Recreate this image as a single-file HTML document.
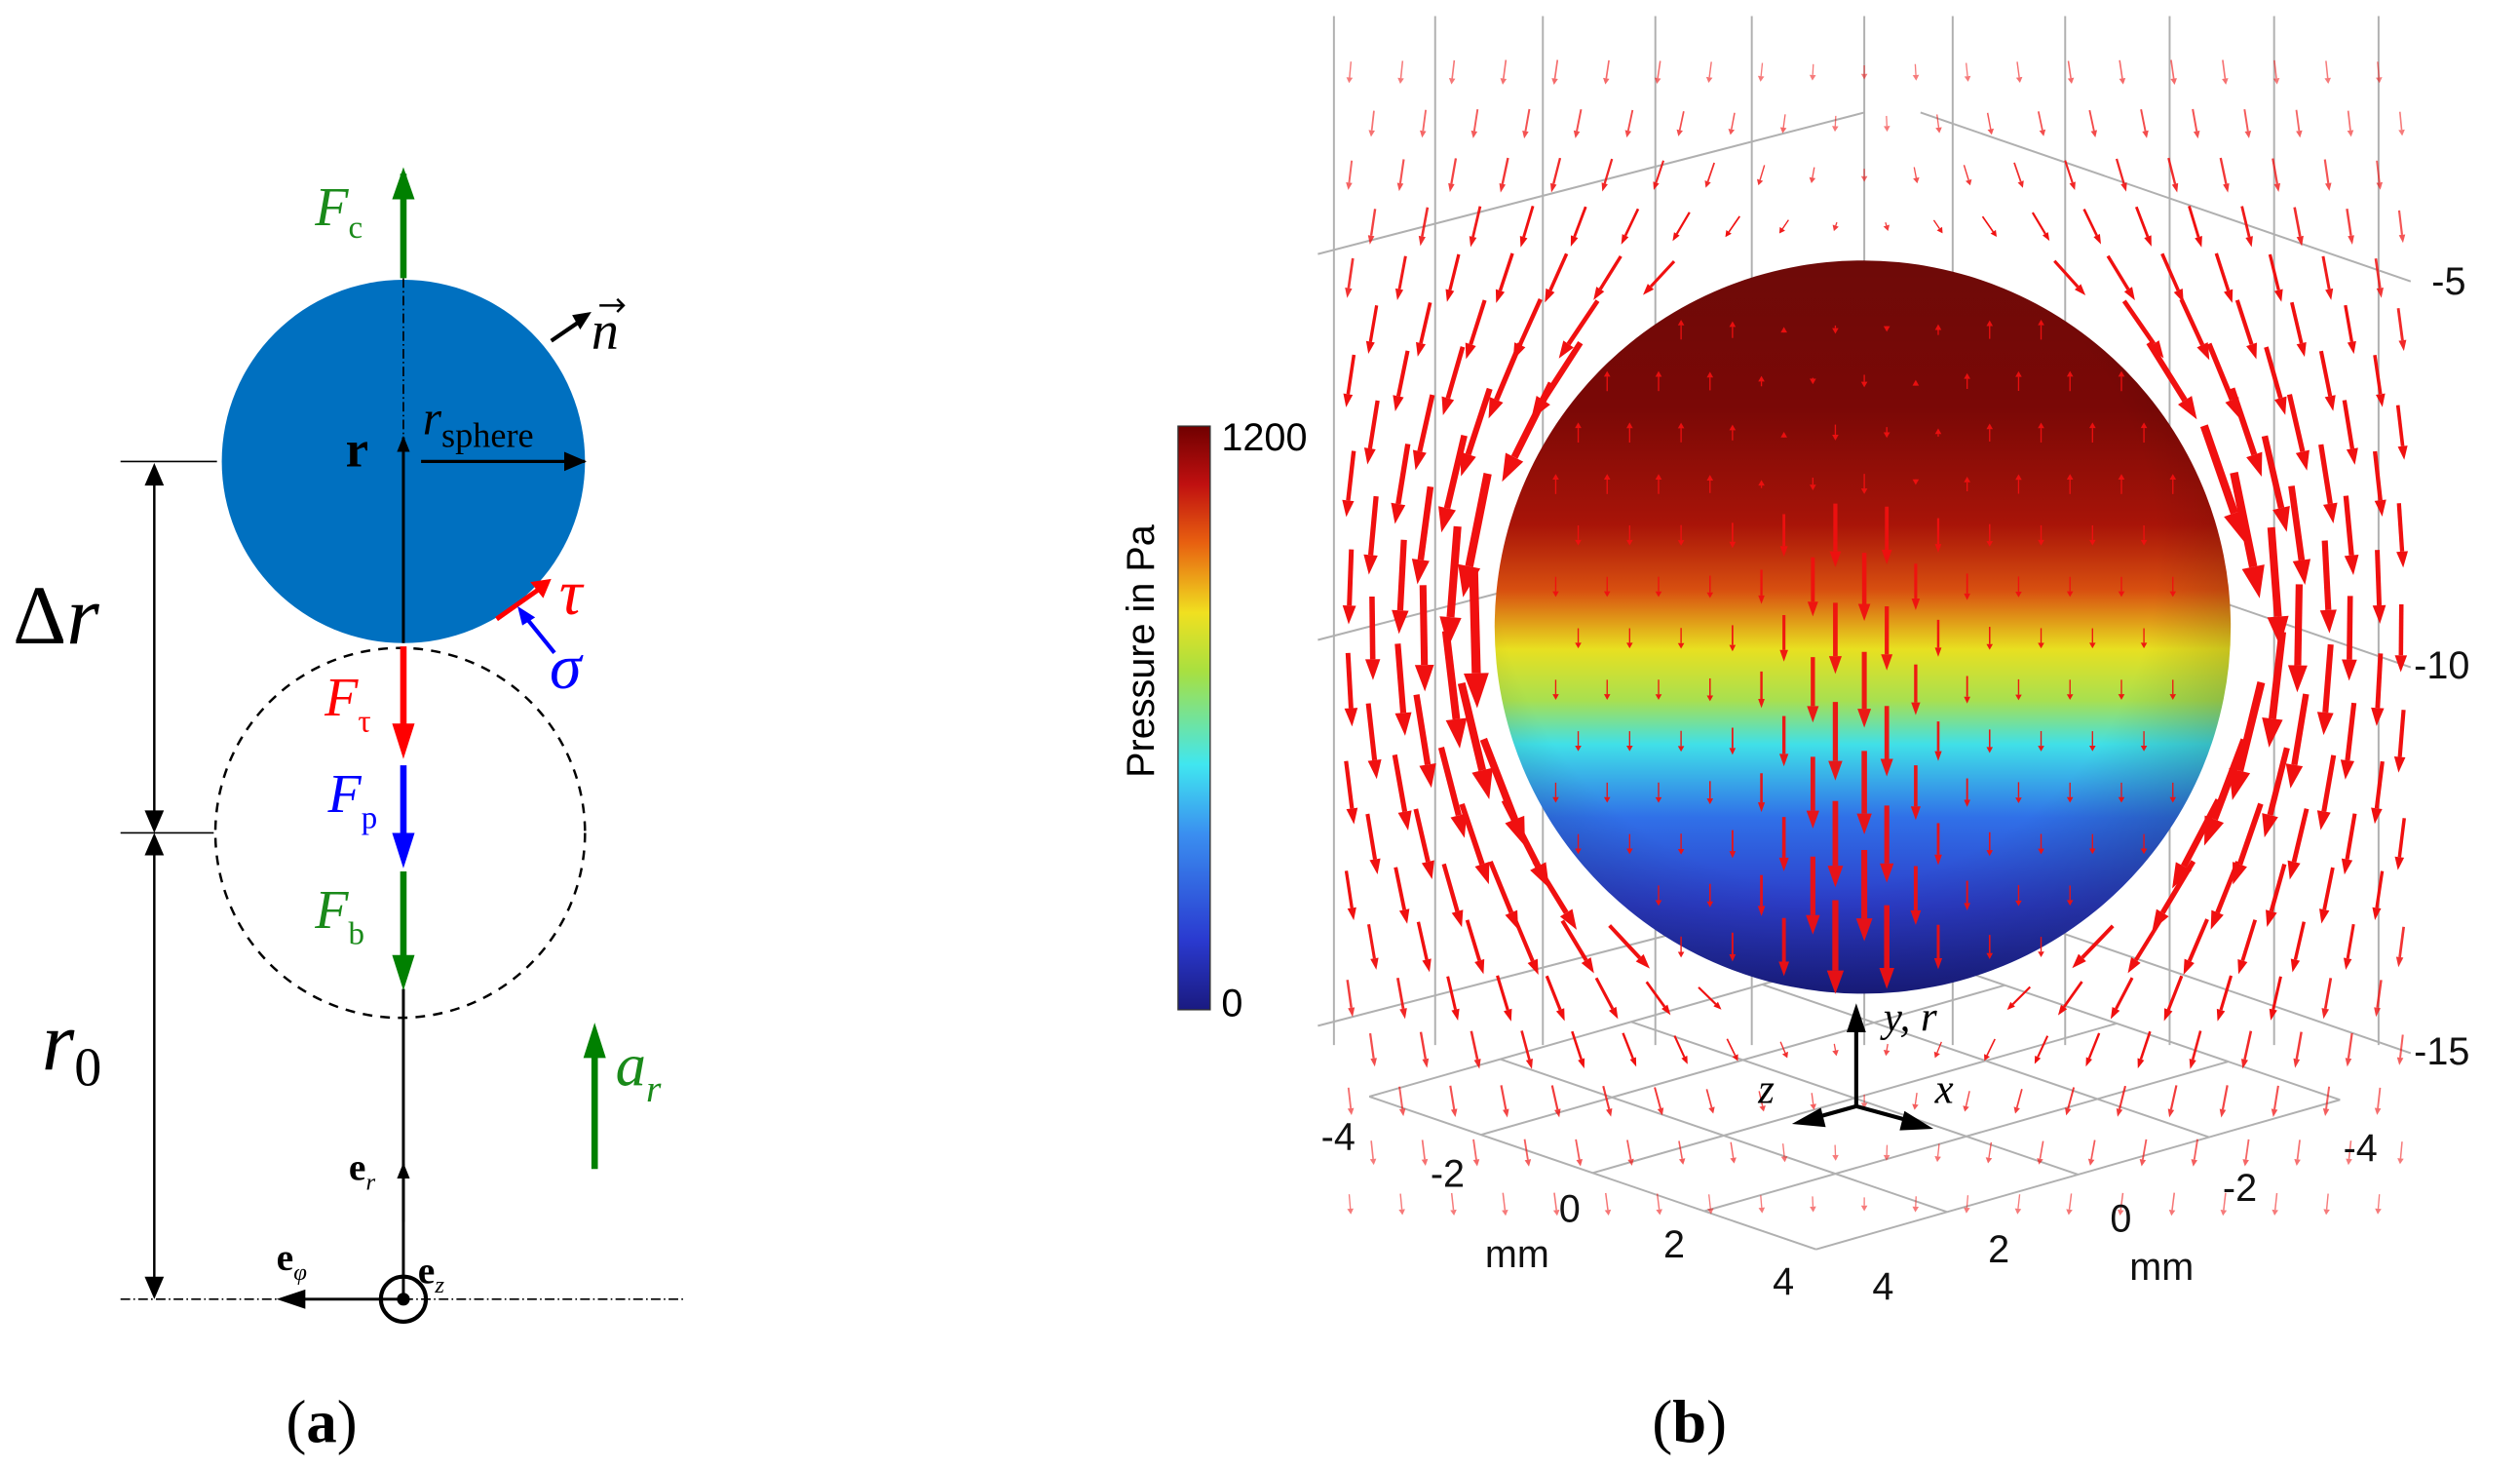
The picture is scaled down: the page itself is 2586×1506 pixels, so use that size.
<!DOCTYPE html>
<html><head><meta charset="utf-8"><style>
html,body{margin:0;padding:0;background:#fff;}
svg{display:block;}
.serif{font-family:"Liberation Serif",serif;}
.sans{font-family:"Liberation Sans",sans-serif;}
</style></head><body>
<svg id="fig" width="2586" height="1506" viewBox="0 0 1568 913" preserveAspectRatio="none" xmlns="http://www.w3.org/2000/svg">
<defs>
<marker id="hk" markerWidth="10" markerHeight="10" refX="9" refY="5" orient="auto" markerUnits="userSpaceOnUse"><path d="M0,1 L10,5 L0,9 Z" fill="#000"/></marker>
<marker id="hk2" markerWidth="14" markerHeight="14" refX="13" refY="7" orient="auto" markerUnits="userSpaceOnUse"><path d="M0,1 L14,7 L0,13 Z" fill="#000"/></marker>
<linearGradient id="cb" x1="0" y1="1" x2="0" y2="0">
<stop offset="0" stop-color="#1a1a80"/><stop offset="0.12" stop-color="#2a3ad0"/><stop offset="0.3" stop-color="#3a8ef0"/><stop offset="0.42" stop-color="#40e6f0"/><stop offset="0.58" stop-color="#a8e040"/><stop offset="0.68" stop-color="#f0e020"/><stop offset="0.8" stop-color="#e86010"/><stop offset="0.9" stop-color="#c01010"/><stop offset="1" stop-color="#700000"/>
</linearGradient>
<linearGradient id="sg" x1="0" y1="0" x2="0" y2="1">
<stop offset="0" stop-color="#6e0a08"/><stop offset="0.2" stop-color="#7a0806"/><stop offset="0.36" stop-color="#a81408"/><stop offset="0.45" stop-color="#d85010"/><stop offset="0.53" stop-color="#e8e020"/><stop offset="0.6" stop-color="#a8e050"/><stop offset="0.66" stop-color="#40e0e8"/><stop offset="0.76" stop-color="#3070e8"/><stop offset="0.88" stop-color="#2c3cc8"/><stop offset="1" stop-color="#1c2090"/>
</linearGradient>
<radialGradient id="shade" cx="0.45" cy="0.4" r="0.6"><stop offset="0.75" stop-color="#000" stop-opacity="0"/><stop offset="1" stop-color="#000" stop-opacity="0.18"/></radialGradient>
</defs>

<!-- PANEL A -->
<g>
<circle cx="251" cy="287" r="113" fill="#0070c0"/>
<circle cx="249" cy="518" r="115" fill="none" stroke="#000" stroke-width="1.5" stroke-dasharray="6,5"/>
<line x1="251" y1="173" x2="251" y2="287" stroke="#000" stroke-width="1" stroke-dasharray="6,2,1,2"/>
<line x1="251" y1="400" x2="251" y2="272" stroke="#000" stroke-width="1.8" marker-end="url(#hk)"/>
<line x1="251" y1="615" x2="251" y2="808" stroke="#000" stroke-width="1.8"/>
<line x1="251" y1="760" x2="251" y2="724" stroke="#000" stroke-width="1.8" marker-end="url(#hk)"/>
<line x1="262" y1="287" x2="364" y2="287" stroke="#000" stroke-width="2" marker-end="url(#hk2)"/>
<text class="serif" x="215" y="290" font-size="32" font-weight="bold">r</text>
<text class="serif" x="263" y="270" font-size="30" font-style="italic">r<tspan font-size="22" font-style="normal" dy="8">sphere</tspan></text>
<line x1="251" y1="173" x2="251" y2="108" stroke="#008000" stroke-width="4"/>
<path d="M244,124 L251,104 L258,124 Z" fill="#008000"/>
<text class="serif" x="196" y="140" font-size="34" font-style="italic" fill="#1a8a1a">F<tspan font-size="20" font-style="normal" dy="8">c</tspan></text>
<line x1="343" y1="212" x2="362" y2="199" stroke="#000" stroke-width="2.5"/>
<path d="M356,196 L368,194 L361,205 Z" fill="#000"/>
<text class="serif" x="368" y="217" font-size="34" font-style="italic">n</text>
<path d="M373,190 L388,190 M384,186 L388,190 L384,194" stroke="#000" stroke-width="1.5" fill="none"/>
<line x1="309" y1="385" x2="336" y2="366" stroke="#ff0000" stroke-width="3"/>
<path d="M330,362 L343,360 L338,372 Z" fill="#ff0000"/>
<text class="serif" x="348" y="382" font-size="40" font-style="italic" fill="#ff0000">τ</text>
<line x1="345" y1="406" x2="328" y2="385" stroke="#0000ff" stroke-width="2.5"/>
<path d="M322,377 L333,384 L325,389 Z" fill="#0000ff"/>
<text class="serif" x="342" y="428" font-size="40" font-style="italic" fill="#0000ff">σ</text>
<line x1="251" y1="402" x2="251" y2="455" stroke="#ff0000" stroke-width="4"/>
<path d="M244,450 L251,472 L258,450 Z" fill="#ff0000"/>
<text class="serif" x="202" y="445" font-size="34" font-style="italic" fill="#ff0000">F<tspan font-size="20" font-style="normal" dy="10">τ</tspan></text>
<line x1="251" y1="476" x2="251" y2="522" stroke="#0000ff" stroke-width="4"/>
<path d="M244,518 L251,540 L258,518 Z" fill="#0000ff"/>
<text class="serif" x="204" y="505" font-size="34" font-style="italic" fill="#0000ff">F<tspan font-size="20" font-style="normal" dy="10">p</tspan></text>
<line x1="251" y1="542" x2="251" y2="598" stroke="#008000" stroke-width="4"/>
<path d="M244,594 L251,616 L258,594 Z" fill="#008000"/>
<text class="serif" x="196" y="577" font-size="34" font-style="italic" fill="#1a8a1a">F<tspan font-size="20" font-style="normal" dy="10">b</tspan></text>
<line x1="75" y1="287" x2="135" y2="287" stroke="#000" stroke-width="1"/>
<line x1="75" y1="518" x2="133" y2="518" stroke="#000" stroke-width="1"/>
<line x1="96" y1="300" x2="96" y2="506" stroke="#000" stroke-width="1.5"/>
<path d="M90,302 L96,288 L102,302 Z M90,504 L96,518 L102,504 Z" fill="#000"/>
<line x1="96" y1="530" x2="96" y2="796" stroke="#000" stroke-width="1.5"/>
<path d="M90,532 L96,518 L102,532 Z M90,794 L96,808 L102,794 Z" fill="#000"/>
<text class="serif" x="8" y="400" font-size="52">Δ<tspan font-style="italic">r</tspan></text>
<text class="serif" x="26" y="665" font-size="52" font-style="italic">r<tspan font-size="34" font-style="normal" dy="10">0</tspan></text>
<line x1="75" y1="808" x2="425" y2="808" stroke="#000" stroke-width="1" stroke-dasharray="6,2,1,2"/>
<line x1="251" y1="808" x2="185" y2="808" stroke="#000" stroke-width="1.8"/>
<path d="M190,802 L172,808 L190,814 Z" fill="#000"/>
<circle cx="251" cy="808" r="14" fill="none" stroke="#000" stroke-width="2.5"/>
<circle cx="251" cy="808" r="4" fill="#000"/>
<text class="serif" x="217" y="734" font-size="24" font-weight="bold">e<tspan font-size="15" font-style="italic" font-weight="normal" dy="6">r</tspan></text>
<text class="serif" x="172" y="790" font-size="24" font-weight="bold">e<tspan font-size="15" font-style="italic" font-weight="normal" dy="6">φ</tspan></text>
<text class="serif" x="260" y="798" font-size="24" font-weight="bold">e<tspan font-size="15" font-style="italic" font-weight="normal" dy="6">z</tspan></text>
<line x1="370" y1="727" x2="370" y2="656" stroke="#008000" stroke-width="4"/>
<path d="M363,658 L370,636 L377,658 Z" fill="#008000"/>
<text class="serif" x="383" y="675" font-size="38" font-style="italic" fill="#1a8a1a">a<tspan font-size="24" dy="10">r</tspan></text>
<text class="serif" x="178" y="897" font-size="38">(<tspan font-weight="bold">a</tspan>)</text>
</g>

<!-- PANEL B -->
<g>
<g id="grid" stroke="#b0b0b0" stroke-width="1.2" fill="none"></g>
<g id="backArrows"></g>
<ellipse cx="1159" cy="390" rx="229" ry="228" fill="url(#sg)"/>
<ellipse cx="1159" cy="390" rx="229" ry="228" fill="url(#shade)"/>
<g id="frontArrows"></g>
<rect x="733" y="265" width="20" height="363" fill="url(#cb)" stroke="#333" stroke-width="0.8"/>
<text class="sans" x="760" y="280" font-size="24">1200</text>
<text class="sans" x="760" y="632" font-size="24">0</text>
<text class="sans" x="0" y="0" font-size="24" text-anchor="middle" transform="translate(718,405) rotate(-90)">Pressure in Pa</text>
<g class="sans" font-size="24" fill="#111">
<text x="1513" y="183">-5</text><text x="1502" y="422">-10</text><text x="1502" y="662">-15</text>
<text x="822" y="715">-4</text><text x="890" y="738">-2</text><text x="970" y="760">0</text><text x="924" y="788">mm</text>
<text x="1035" y="782">2</text><text x="1103" y="805">4</text><text x="1165" y="808">4</text><text x="1237" y="785">2</text>
<text x="1313" y="766">0</text><text x="1325" y="796">mm</text><text x="1383" y="747">-2</text><text x="1458" y="722">-4</text>
</g>
<g>
<line x1="1155" y1="688" x2="1155" y2="640" stroke="#000" stroke-width="2.5"/>
<path d="M1149,642 L1155,624 L1161,642 Z" fill="#000"/>
<line x1="1155" y1="688" x2="1130" y2="695" stroke="#000" stroke-width="2.5"/>
<path d="M1133,689 L1115,699 L1136,701 Z" fill="#000"/>
<line x1="1155" y1="688" x2="1188" y2="697" stroke="#000" stroke-width="2.5"/>
<path d="M1185,691 L1203,702 L1182,703 Z" fill="#000"/>
<text class="serif" x="1172" y="641" font-size="26" font-style="italic">y, r</text>
<text class="serif" x="1094" y="686" font-size="26" font-style="italic">z</text>
<text class="serif" x="1204" y="686" font-size="26" font-style="italic">x</text>
</g>
<text class="serif" x="1028" y="897" font-size="38">(<tspan font-weight="bold">b</tspan>)</text>
</g>
</svg>
<script>
const NS="http://www.w3.org/2000/svg";
const gridXs=[830,893,960,1030,1090,1160,1215,1285,1350,1415,1480];
const grid=document.getElementById('grid');
function ln(p,x1,y1,x2,y2){const l=document.createElementNS(NS,'line');l.setAttribute('x1',x1);l.setAttribute('y1',y1);l.setAttribute('x2',x2);l.setAttribute('y2',y2);


p.appendChild(l);}
gridXs.forEach(x=>ln(grid,x,10,x,650));
[[158,70,175],[398,310,415],[638,550,655]].forEach(([a,b,c])=>{ln(grid,820,a,1160,b);ln(grid,1195,b,1500,c);});
const L=[852,682],B=[1130,777],Rr=[1456,684],T=[L[0]+Rr[0]-B[0],L[1]+Rr[1]-B[1]];
for(let i=0;i<5;i++){const t=i/4;
  const s1=[T[0]+(L[0]-T[0])*t,T[1]+(L[1]-T[1])*t], e1=[Rr[0]+(B[0]-Rr[0])*t,Rr[1]+(B[1]-Rr[1])*t];
  ln(grid,s1[0],s1[1],e1[0],e1[1]);
  const s2=[L[0]+(B[0]-L[0])*t,L[1]+(B[1]-L[1])*t], e2=[T[0]+(Rr[0]-T[0])*t,T[1]+(Rr[1]-T[1])*t];
  ln(grid,s2[0],s2[1],e2[0],e2[1]);
}
const back=document.getElementById('backArrows'),front=document.getElementById('frontArrows');
function arrow(p,x,y,vx,vy,sc,op){
  const m=Math.hypot(vx,vy);if(m<1e-3)return;
  const Ln=sc*m, ux=vx/m, uy=vy/m, w=Math.max(0.8,Ln*0.065), hl=Math.max(3.5,Ln*0.25), hw=Math.max(2,Ln*0.09);
  const x0=x-ux*Ln/2,y0=y-uy*Ln/2,x2=x+ux*Ln/2,y2=y+uy*Ln/2,bx=x2-ux*hl,by=y2-uy*hl;
  const g=document.createElementNS(NS,'g');
  
  
  g.setAttribute('opacity',op);
  g.innerHTML=`<line x1="${x0}" y1="${y0}" x2="${bx}" y2="${by}" stroke="#f01010" stroke-width="${w}"/><path d="M${x2},${y2} L${bx-uy*hw},${by+ux*hw} L${bx+uy*hw},${by-ux*hw} Z" fill="#f01010"/>`;
  p.appendChild(g);
}
const cx=1159,cy=390,R=229;
let row=0;
for(let y=45;y<=770;y+=32,row++){
  for(let x=840;x<=1480;x+=32){
    const xx=x+(row%2)*14;
    const dx=(xx-cx)/R,dy=(y-cy)/R,r=Math.hypot(dx,dy);
    if(r<1){
      if(Math.abs(dx)>0.85||y<190)continue;
      const core=Math.exp(-Math.pow((dx+0.03)/0.22,2));
      const vy=(dy<-0.3?-0.25:0.25)+1.0*core*(0.3+0.7*(dy+1)/2);
      arrow(front,xx,y,0,vy,50,0.95);
    }else{
      if(r<1.05)continue;
      const nx=dx/r,ny=dy/r,k=1/(r*r*r);
      let vx=-1.5*k*ny*nx, vy=1+0.5*k-1.5*k*ny*ny;
      const side=0.45+0.8*Math.abs(nx);
      const dec=Math.exp(-(r-1)*1.25)*side;
      vx*=dec;vy*=dec;
      arrow(back,xx,y,vx,vy,52,Math.max(0.55,Math.min(1,dec*1.8)));
    }
  }
}
</script>
</body></html>
